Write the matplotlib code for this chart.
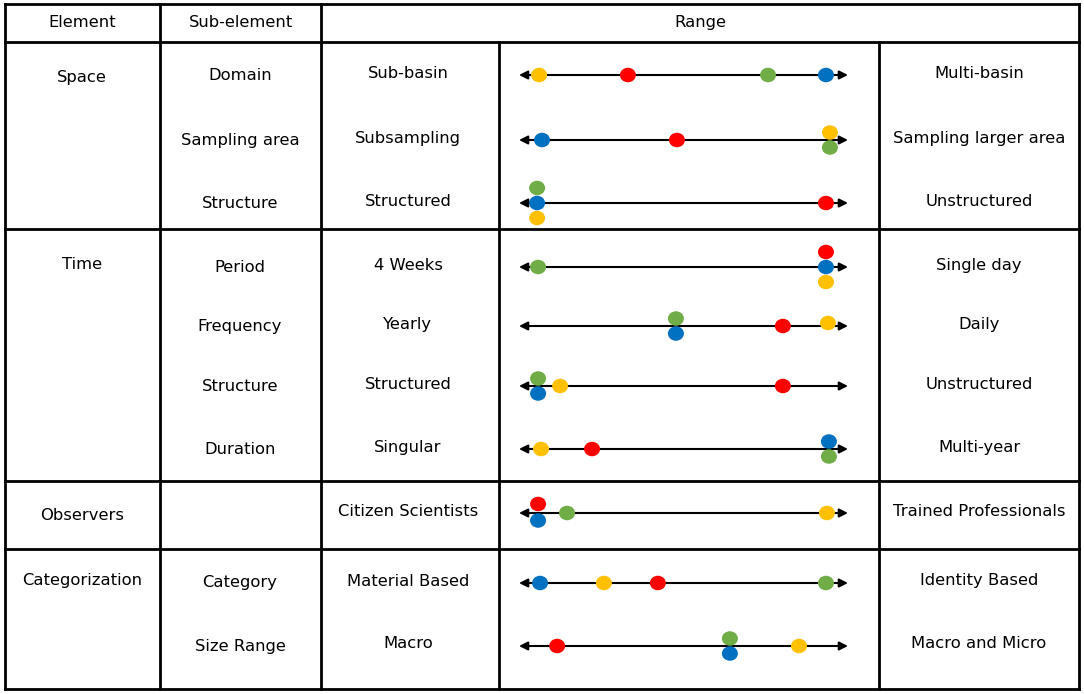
import matplotlib.pyplot as plt
from matplotlib.patches import Ellipse

# --- table content ---
elements = ['Space', 'Time', 'Observers', 'Categorization']
sub_elements = ['Domain', 'Sampling area', 'Structure',
                'Period', 'Frequency', 'Structure', 'Duration',
                '',
                'Category', 'Size Range']
low_ends = ['Sub-basin', 'Subsampling', 'Structured',
            '4 Weeks', 'Yearly', 'Structured', 'Singular',
            'Citizen Scientists',
            'Material Based', 'Macro']
high_ends = ['Multi-basin', 'Sampling larger area', 'Unstructured',
             'Single day', 'Daily', 'Unstructured', 'Multi-year',
             'Trained Professionals',
             'Identity Based', 'Macro and Micro']

# position along each range (0 = low end, 100 = high end), per study colour
yellow = [6.1, 94.5, 5.5, 93.3, 93.9, 12.5, 6.7, 93.6, 25.8, 85.1]
red    = [33.1, 48.0, 93.3, 93.3, 80.2, 80.2, 22.2, 5.8, 42.2, 11.6]
green  = [75.7, 94.5, 5.5, 5.8, 47.7, 5.8, 94.2, 14.6, 93.3, 64.1]
blue   = [93.3, 7.0, 5.5, 93.3, 47.7, 5.8, 94.2, 5.8, 6.4, 64.1]

# stacking of coincident dots (-1 above, +1 below, in dot heights)
yellow_stack = [0, -0.5, 1, 1, -0.2, 0, 0, 0, 0, 0]
red_stack    = [0, 0, 0, -1, 0, 0, 0, -0.6, 0, 0]
green_stack  = [0, 0.5, -1, 0, -0.5, -0.5, 0.5, 0, 0, -0.5]
blue_stack   = [0, 0, 0, 0, 0.5, 0.5, -0.5, 0.5, 0, 0.5]

colors = {'yellow': '#FFC000', 'red': '#FF0000', 'green': '#70AD47', 'blue': '#0070C0'}

# --- layout (pixels) ---
W, H = 1084, 694
row_y = [75, 140, 203, 267, 326, 386, 449, 513, 583, 646]
element_y = [77, 264, 515, 580]
hlines = [4, 42, 229, 481, 549, 689]
x_left, x_right = 5, 1079
col_x = [160, 321, 499, 879]
rng_lo, rng_hi = 519, 848

plt.rcParams['font.family'] = 'DejaVu Sans'
plt.rcParams['font.size'] = 11.8

fig = plt.figure(figsize=(W / 100, H / 100), dpi=100)
ax = fig.add_axes([0, 0, 1, 1])
ax.set_xlim(0, W)
ax.set_ylim(H, 0)
ax.axis('off')

### grid
lw = 2.0
for y in hlines:
    ax.plot([x_left, x_right], [y, y], color='black', lw=lw, solid_capstyle='projecting')
for x in [x_left, x_right, col_x[0], col_x[1]]:
    ax.plot([x, x], [hlines[0], hlines[-1]], color='black', lw=lw, solid_capstyle='projecting')
for x in col_x[2:]:
    ax.plot([x, x], [hlines[1], hlines[-1]], color='black', lw=lw)

### header
ax.text((x_left + col_x[0]) / 2, 22, 'Element', ha='center', va='center')
ax.text((col_x[0] + col_x[1]) / 2, 22, 'Sub-element', ha='center', va='center')
ax.text((col_x[1] + x_right) / 2, 22, 'Range', ha='center', va='center')

### text columns
for lab, y in zip(elements, element_y):
    ax.text(82, y, lab, ha='center', va='center')
for i, y in enumerate(row_y):
    ax.text(240, y, sub_elements[i], ha='center', va='center')
    ax.text(408, y - 2, low_ends[i], ha='center', va='center')
    ax.text(979, y - 2, high_ends[i], ha='center', va='center')

### range axis: 0..100 mapped onto the arrow span
px_per_unit = (rng_hi - rng_lo) / 100.0
rax = fig.add_axes([0, 0, 1, 1])
rax.set_xlim(-rng_lo / px_per_unit, (W - rng_lo) / px_per_unit)
rax.set_ylim(H, 0)
rax.axis('off')

dot_w, dot_h = 16, 14.5
for i, y in enumerate(row_y):
    rax.annotate('', xy=(100, y), xytext=(0, y),
                 arrowprops=dict(arrowstyle='<|-|>,head_length=0.5,head_width=0.25',
                                 color='black', lw=1.5, shrinkA=0, shrinkB=0,
                                 mutation_scale=10))
    for name, vals, stack in [('yellow', yellow, yellow_stack), ('red', red, red_stack),
                              ('green', green, green_stack), ('blue', blue, blue_stack)]:
        e = Ellipse((vals[i], y + stack[i] * 15), width=dot_w / px_per_unit,
                    height=dot_h, facecolor=colors[name], edgecolor='none', zorder=3)
        rax.add_patch(e)

plt.savefig('out.png', dpi=100)
